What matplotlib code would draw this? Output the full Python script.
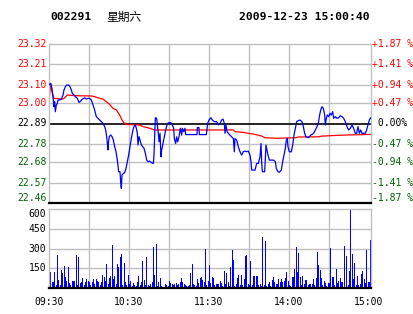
import matplotlib
matplotlib.use("Agg")
import matplotlib.pyplot as plt

# minutes since 09:30 (lunch break removed) and price
price_min = [0, 1.25, 2.25, 3.75, 4.25, 4.75, 5.5, 6.25, 6.75, 8, 9.25, 10.5, 11.25, 12.25, 13.25,
             14.75, 15.75, 16.75, 17.5, 18.75, 19.75, 21.25, 22.5, 23.75, 25, 26.75, 28, 29.25,
             30.5, 31.75, 33, 34.25, 35.5, 36.75, 38, 39.25, 40.5, 41.75, 42.5, 43.25, 43.75,
             44.25, 44.5, 45.25, 46.25, 47.25, 48.25, 49.25, 50.25, 51.25, 52.25, 53.25, 53.75,
             54.25, 54.75, 55.75, 56.75, 57.75, 58.75, 59.75, 60.75, 61.75, 62.5, 63.25, 63.75,
             64.75, 65.5, 66.25, 66.75, 67.5, 68.25, 69.25, 70.25, 71.25, 72.25, 73.25, 74.25,
             75.5, 76.75, 78.25, 78.75, 79.25, 79.75,
             80.75, 81.5, 82, 82.5, 83.25, 84, 84.5, 85, 85.75, 86.5, 87.5, 88.5, 89.5, 91.5,
             92.5, 93.5, 94, 95, 95.75, 96.5, 97.5, 98.5, 99.5, 100, 101, 102, 102.5, 111,
             111.25, 112.5, 112.75, 118, 119, 120, 121.5, 122.5, 124, 125.75, 127, 128.25,
             129.5, 130.5, 131.5, 132, 132.75, 133.5, 134.5, 135.75, 137, 138.25, 139, 139.5,
             140.75, 142, 143.25, 144.5, 145.75, 147, 148.25, 149.5, 150.75, 151.5, 152, 154.5,
             155.75, 157, 158.25, 159, 159.5, 160,
             161.75, 162.25, 162.75, 163.5, 164.25, 165.25, 166.75, 168.5, 169.75, 170.5,
             171.75, 172.75, 174.25, 175.25, 176.25, 177.25, 178, 178.75, 179.25, 180.25,
             181.75, 182.75, 183.75, 184.75, 185.75, 186.75, 188.25, 189.75, 190.75, 191.75,
             192.75, 194.25, 195.25, 196.25, 197.25, 198.5, 199.75, 201, 202.25, 202.75,
             203.75, 204.75, 205.75, 206.75, 207.25, 208, 208.75, 209.75, 210.75, 211.75,
             212.75, 213.5, 214.75, 216, 217.25, 218.5, 219.75, 221, 222.25, 223.5, 224.75,
             226, 227.25, 228.5, 229.75, 230.75, 231.75, 232.75, 233.75, 234.75, 237.25,
             238.25, 239.25, 240.25, 241.25]
price_val = [23.10, 23.107, 23.08, 22.981, 23.008, 22.954, 22.99, 22.999, 23.017, 23.017, 23.022,
             23.044, 23.071, 23.089, 23.098, 23.098, 23.089, 23.071, 23.053, 23.044, 23.035,
             23.026, 23.004, 23.011, 23.022, 23.029, 23.022, 23.026, 23.026, 23.017, 22.99,
             22.963, 22.927, 22.918, 22.909, 22.9, 22.891, 22.873, 22.855, 22.819, 22.783,
             22.747, 22.783, 22.819, 22.828, 22.819, 22.801, 22.765, 22.738, 22.692, 22.629,
             22.629, 22.575, 22.539, 22.611, 22.62, 22.624, 22.647, 22.683, 22.72, 22.765,
             22.81, 22.837, 22.864, 22.873, 22.882, 22.864, 22.837, 22.774, 22.819, 22.801,
             22.774, 22.765, 22.756, 22.729, 22.692, 22.683, 22.687, 22.678, 22.674, 22.72,
             22.828, 22.921,
             22.918, 22.864, 22.837, 22.791, 22.837, 22.71, 22.746, 22.764, 22.791, 22.818,
             22.855, 22.882, 22.894, 22.894, 22.882, 22.864, 22.809, 22.782, 22.818, 22.791,
             22.818, 22.864, 22.827, 22.864, 22.846, 22.864, 22.83, 22.83, 22.868, 22.868,
             22.83, 22.83, 22.891, 22.909, 22.921, 22.909, 22.9, 22.9, 22.882, 22.891, 22.909,
             22.914, 22.891, 22.837, 22.882, 22.846, 22.837, 22.827, 22.818, 22.809, 22.737,
             22.809, 22.8, 22.764, 22.737, 22.719, 22.737, 22.741, 22.737, 22.741, 22.719,
             22.683, 22.638, 22.638, 22.674, 22.674, 22.71, 22.782, 22.683, 22.629,
             22.629, 22.701, 22.773, 22.746, 22.719, 22.692, 22.692, 22.692, 22.683, 22.647,
             22.629, 22.626, 22.638, 22.683, 22.719, 22.755, 22.8, 22.809, 22.764, 22.737,
             22.737, 22.773, 22.827, 22.864, 22.9, 22.905, 22.909, 22.9, 22.873, 22.837,
             22.818, 22.813, 22.818, 22.827, 22.831, 22.837, 22.855, 22.873, 22.9, 22.927,
             22.963, 22.981, 22.972, 22.936, 22.882, 22.918, 22.936, 22.927, 22.945, 22.936,
             22.954, 22.918, 22.927, 22.918, 22.921, 22.932, 22.927, 22.918, 22.9, 22.873,
             22.855, 22.864, 22.882, 22.864, 22.837, 22.837, 22.873, 22.837, 22.855, 22.837,
             22.837, 22.855, 22.882, 22.909, 22.921]

# average price line
avg_min = [0, 1.25, 2.25, 3.75, 10.5, 11.75, 13.75, 21.75, 31.75, 34.25, 36.75, 40.5, 43, 45.5,
           48, 50.5, 53, 54.75, 56.25, 58, 68, 70.5, 74.25, 77.25, 79.25, 138.25, 139.5, 145.75,
           149.5, 154.5, 159.5, 162, 170.75, 184.75, 187.25, 202.25, 204.75, 219.75, 241.25]
avg_val = [23.01, 23.107, 23.062, 23.026, 23.022, 23.029, 23.044, 23.04, 23.039, 23.035, 23.029,
           23.022, 23.008, 22.993, 22.972, 22.963, 22.936, 22.909, 22.894, 22.885, 22.882,
           22.873, 22.867, 22.86, 22.855, 22.855, 22.846, 22.842, 22.837, 22.831, 22.822,
           22.813, 22.81, 22.813, 22.817, 22.818, 22.822, 22.827, 22.831]

# volume per minute
vol_am = [61, 125, 43, 43, 125, 23, 248, 61, 23, 138, 112, 168, 87, 54, 161, 36, 23, 54, 54, 54,
          253, 23, 237, 36, 43, 79, 23, 49, 69, 54, 43, 23, 49, 69, 28, 69, 54, 49, 23, 49,
          100, 84, 54, 181, 28, 74, 94, 329, 69, 94, 28, 184, 156, 235, 260, 23, 191, 43, 23, 100,
          28, 54, 18, 36, 23, 18, 49, 94, 23, 49, 207, 61, 23, 237, 23, 15, 28, 43, 314, 100,
          337, 15, 43, 74, 15, 10, 8, 28, 23, 15, 54, 36, 28, 23, 28, 36, 23, 28, 43, 74,
          43, 33, 23, 15, 15, 23, 112, 181, 28, 23, 15, 69, 38, 74, 84, 61, 49, 299, 23, 54, 176]
vol_pm = [36, 87, 79, 23, 28, 28, 28, 54, 41, 18, 130, 28, 117, 43, 18, 156, 288, 209, 18,
          31, 79, 100, 23, 100, 23, 69, 240, 248, 28, 23, 202, 23, 94, 94, 94, 94, 23, 28,
          15, 391, 23, 355, 15, 28, 49, 18, 61, 87, 43, 28, 33, 69, 43, 69, 43, 54, 74,
          125, 54, 23, 18, 87, 87, 146, 314, 125, 266, 84, 23, 94, 28, 61, 59, 23, 33, 28, 28,
          69, 23, 79, 276, 176, 138, 79, 23, 54, 36, 18, 36, 38, 306, 84, 87, 23, 146, 36, 54,
          79, 43, 43, 322, 10, 245, 23, 130, 590, 260, 69, 191, 23, 94, 23, 28, 105, 130,
          69, 38, 291, 43, 43, 363]

price_ticks = [23.32, 23.21, 23.10, 23.00, 22.89, 22.78, 22.68, 22.57, 22.46]
price_labels = ["23.32", "23.21", "23.10", "23.00", "22.89", "22.78", "22.68", "22.57", "22.46"]
pct_labels = ["+1.87 %", "+1.41 %", "+0.94 %", "+0.47 %", " 0.00%",
              "-0.47 %", "-0.94 %", "-1.41 %", "-1.87 %"]
vol_ticks = [600, 450, 300, 150]
time_ticks = [0, 60, 120, 180, 240]
time_labels = ["09:30", "10:30", "11:30", "14:00", "15:00"]
pre_close = 22.89

RED = "#ff0000"
GREEN = "#006400"
GRID = "#c0c0c0"
MONO = ["DejaVu Sans Mono", "Noto Sans CJK SC"]

W, H = 414, 314
fig = plt.figure(figsize=(W / 100, H / 100), dpi=100)
fig.patch.set_facecolor("white")

ax1 = fig.add_axes([49 / W, 1 - 203 / H, 322 / W, 159 / H])
ax2 = fig.add_axes([49 / W, 1 - 288 / H, 322 / W, 79 / H])

for ax in (ax1, ax2):
    ax.set_xlim(0, 241.5)
    ax.set_xticks([])
    ax.set_yticks([])
    for s in ax.spines.values():
        s.set_color(GRID)
        s.set_linewidth(1.0)
    ax.spines["bottom"].set_color("black")
    ax.spines["bottom"].set_linewidth(1.6)
    for m in range(30, 240, 30):
        ax.axvline(m, color=GRID, lw=1.0, zorder=0)

# price panel
ax1.set_ylim(price_ticks[-1], price_ticks[0])
for v in price_ticks[1:-1]:
    if v == pre_close:
        ax1.axhline(v, color="black", lw=1.2, zorder=1)
    else:
        ax1.axhline(v, color=GRID, lw=1.0, zorder=0)
ax1.plot(avg_min, avg_val, color=RED, lw=0.9, zorder=2)
ax1.plot(price_min, price_val, color="#0000ff", lw=0.9, zorder=3)

ytr = ax1.get_yaxis_transform()
for i, (v, lab, pct) in enumerate(zip(price_ticks, price_labels, pct_labels)):
    if v > pre_close:
        c = RED
    elif v < pre_close:
        c = GREEN
    else:
        c = "black"
    va = "bottom" if i == len(price_ticks) - 1 else "center"
    ax1.text(-0.008, v, lab, transform=ytr, ha="right", va=va, color=c,
             fontsize=7, family=MONO)
    ax1.text(1.004, v, pct, transform=ytr, ha="left", va=va, color=c,
             fontsize=7, family=MONO)

# volume panel
ax2.set_ylim(0, 600)
for v in vol_ticks[1:]:
    ax2.axhline(v, color=GRID, lw=1.0, zorder=0)
vols = vol_am + vol_pm
ax2.bar([i + 0.4 for i in range(len(vols))], vols, width=0.75, color="#0000ff",
        linewidth=0, antialiased=False, zorder=2)
ytr2 = ax2.get_yaxis_transform()
for i, v in enumerate(vol_ticks):
    ax2.text(-0.008, v, str(v), transform=ytr2, ha="right",
             va="top" if i == 0 else "center", color="black", fontsize=7, family=MONO)
xtr = ax2.get_xaxis_transform()
for m, lab in zip(time_ticks, time_labels):
    ax2.text(m, -0.12, lab, transform=xtr, ha="center", va="top", color="black",
             fontsize=7, family=MONO)

# header
fig.text(50 / W, 1 - 17 / H, "002291", ha="left", va="center", fontsize=8.2,
         family=MONO, weight="bold")
fig.text(106 / W, 1 - 17 / H, "星期六", ha="left", va="center", fontsize=8.5,
         family=["Noto Sans CJK SC", "DejaVu Sans"])
fig.text(370 / W, 1 - 17 / H, "2009-12-23 15:00:40", ha="right", va="center",
         fontsize=8.2, family=MONO, weight="bold")

fig.savefig("out.png", dpi=100, facecolor="white")
